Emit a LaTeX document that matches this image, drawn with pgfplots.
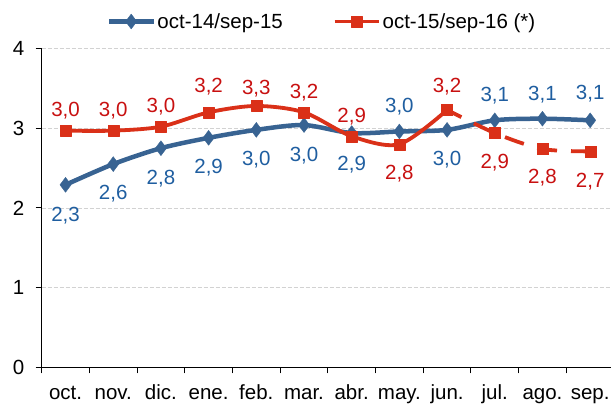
\documentclass[border=0pt]{standalone}
\usepackage{fontspec}
\setmainfont{Liberation Sans}
\usepackage{pgfplots}
\usepackage{pgfplotstable}
\pgfplotsset{compat=1.18}
\definecolor{bline}{RGB}{56,99,146}
\definecolor{blab}{RGB}{31,94,160}
\definecolor{rline}{RGB}{218,48,24}
\definecolor{rlab}{RGB}{200,16,16}
\newcommand\f{\fontsize{20.5}{24}\selectfont}

\pgfplotstableread{
x y lab dy
0 2.29 {2,3} -31
1 2.55 {2,6} -30
2 2.75 {2,8} -30
3 2.88 {2,9} -30
4 2.98 {3,0} -30
5 3.04 {3,0} -31
6 2.94 {2,9} -32
7 2.96 {3,0} 25
8 2.98 {3,0} -30
9 3.10 {3,1} 25
10 3.12 {3,1} 24
11 3.10 {3,1} 27
}\bluedata

\pgfplotstableread{
x y lab dy
0 2.97 {3,0} 20
1 2.97 {3,0} 20
2 3.02 {3,0} 20
3 3.20 {3,2} 26
4 3.28 {3,3} 17
5 3.20 {3,2} 20
6 2.90 {2,9} 20
7 2.80 {2,8} -29
8 3.23 {3,2} 23
}\redA

\pgfplotstableread{
x y lab dy
8 3.23 {} 0
9 2.94 {2,9} -30
10 2.74 {2,8} -29
11 2.71 {2,7} -30
}\redB

\begin{document}
\begin{tikzpicture}
\begin{axis}[
  scale only axis, width=572.3pt, height=318.7pt,
  xmin=-0.5, xmax=11.5, ymin=0, ymax=4,
  axis lines=left, axis line style={-, line width=1pt, black},
  clip=false,
  xtick={-0.5,0.5,...,11.5},
  xticklabels={},
  extra x ticks={0,1,2,3,4,5,6,7,8,9,10,11},
  extra x tick labels={oct.,nov.,dic.,ene.,feb.,mar.,abr.,may.,jun.,jul.,ago.,sep.},
  extra x tick style={major tick length=0pt},
  ytick={0,1,2,3,4},
  tick align=outside,
  major tick length=6pt,
  tick style={black, line width=1pt},
  ymajorgrids,
  grid style={gray!35, line width=0.8pt, dash pattern=on 4pt off 2pt},
  /pgf/number format/assume math mode=true,
  ticklabel style={font=\f},
  xticklabel style={text height=0.72em, text depth=0.2em, yshift=-21pt},
  yticklabel style={xshift=-8pt},
  legend columns=2,
  legend style={at={(0.49,1.085)}, anchor=center, draw=none, fill=none, font=\f,
    /tikz/every even column/.append style={column sep=48pt},
    inner sep=0pt, nodes={inner sep=2pt}},
  legend image code/.code={\draw[mark repeat=2,mark phase=2] plot coordinates {(0pt,0pt) (22pt,0pt) (44pt,0pt)};},
]
\addplot[bline, line width=4.5pt, line join=round, smooth, tension=0.5,
  mark=diamond*, mark size=7.5pt, mark options={solid, line width=0.3pt},
  point meta=explicit symbolic,
  visualization depends on={\thisrow{dy}\as\dy},
  nodes near coords, every node near coord/.append style={font=\f, anchor=center, yshift=\dy pt, text=blab}]
  table[x=x, y=y, meta=lab]{\bluedata};
\addlegendentry{oct-14/sep-15}
\addplot[rline, line width=3.8pt, line join=round, smooth, tension=0.5,
  mark=square*, mark size=5.5pt, mark options={solid, line width=0.3pt},
  point meta=explicit symbolic,
  visualization depends on={\thisrow{dy}\as\dy},
  nodes near coords, every node near coord/.append style={font=\f, anchor=center, yshift=\dy pt, text=rlab}]
  table[x=x, y=y, meta=lab]{\redA};
\addlegendentry{oct-15/sep-16 (*)}
\addplot[rline, line width=3.8pt, smooth, tension=0.5,
  dash pattern=on 20pt off 14pt, dash phase=4pt,
  mark=square*, mark size=5.5pt, mark options={solid, line width=0.3pt},
  point meta=explicit symbolic,
  visualization depends on={\thisrow{dy}\as\dy},
  nodes near coords, every node near coord/.append style={font=\f, anchor=center, yshift=\dy pt, text=rlab}, forget plot]
  table[x=x, y=y, meta=lab]{\redB};
\end{axis}
\pgfresetboundingbox
\path ([shift={(-41.7pt,-37.7pt)}]current axis.south west) rectangle ([shift={(-3pt,48.6pt)}]current axis.north east);
\end{tikzpicture}
\end{document}
